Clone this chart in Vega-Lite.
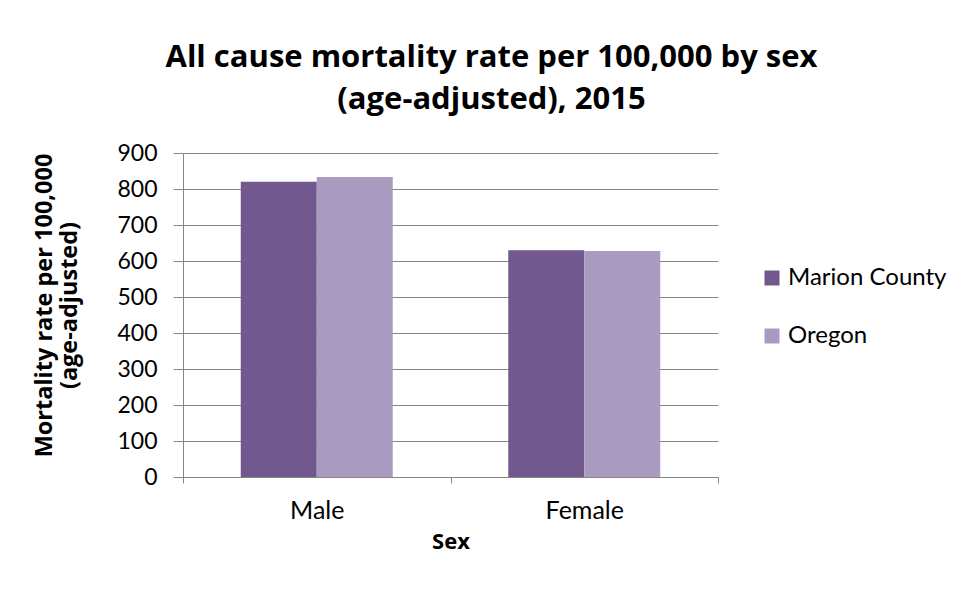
{
  "$schema": "https://vega.github.io/schema/vega-lite/v6.json",
  "width": 535,
  "height": 324,
  "autosize": {"type": "none"},
  "padding": {"left": 183, "top": 153, "right": 241, "bottom": 117},
  "background": "white",
  "title": {
    "text": ["All cause mortality rate per 100,000 by sex", "(age-adjusted), 2015"],
    "font": "Open Sans",
    "fontSize": 31,
    "fontWeight": "bold",
    "color": "#000000",
    "anchor": "middle",
    "dx": 41,
    "lineHeight": 42,
    "offset": 26
  },
  "data": {
    "values": [
      {"sex": "Male", "area": "Marion County", "rate": 820},
      {"sex": "Male", "area": "Oregon", "rate": 833},
      {"sex": "Female", "area": "Marion County", "rate": 630},
      {"sex": "Female", "area": "Oregon", "rate": 628}
    ]
  },
  "mark": {"type": "bar"},
  "encoding": {
    "x": {
      "field": "sex",
      "type": "nominal",
      "sort": ["Male", "Female"],
      "scale": {"paddingInner": 0, "paddingOuter": 0},
      "axis": {
        "title": "Sex",
        "labelAngle": 0,
        "tickBand": "extent",
        "tickSize": 6,
        "labelPadding": 15,
        "titlePadding": 8,
        "domainColor": "#868686",
        "tickColor": "#868686",
        "labelFont": "Lato",
        "labelFontSize": 25,
        "labelColor": "#000000",
        "titleFont": "Open Sans",
        "titleFontSize": 22,
        "titleFontWeight": "bold",
        "titleColor": "#000000"
      }
    },
    "xOffset": {
      "field": "area",
      "type": "nominal",
      "scale": {"paddingInner": 0, "paddingOuter": 0.76}
    },
    "y": {
      "field": "rate",
      "type": "quantitative",
      "scale": {"domain": [0, 900]},
      "axis": {
        "title": ["Mortality rate per 100,000", "(age-adjusted)"],
        "values": [0, 100, 200, 300, 400, 500, 600, 700, 800, 900],
        "tickSize": 10,
        "labelPadding": 16,
        "titlePadding": 35,
        "titleY": 152,
        "grid": true,
        "gridColor": "#868686",
        "domainColor": "#868686",
        "tickColor": "#868686",
        "labelFont": "Lato",
        "labelFontSize": 23,
        "labelColor": "#000000",
        "titleFont": "Open Sans",
        "titleFontSize": 23.5,
        "titleFontWeight": "bold",
        "titleColor": "#000000",
        "titleLineHeight": 25
      }
    },
    "color": {
      "field": "area",
      "type": "nominal",
      "scale": {"domain": ["Marion County", "Oregon"], "range": ["#71588F", "#A99BBF"]},
      "legend": {
        "title": null,
        "orient": "none",
        "legendX": 577,
        "legendY": 113,
        "symbolType": "square",
        "symbolSize": 225,
        "symbolStrokeWidth": 0,
        "labelFont": "Lato",
        "labelFontSize": 24,
        "labelColor": "#000000",
        "labelOffset": 4,
        "rowPadding": 34
      }
    }
  },
  "config": {
    "view": {"stroke": null},
    "axis": {"gridWidth": 1, "domainWidth": 1, "tickWidth": 1}
  }
}
